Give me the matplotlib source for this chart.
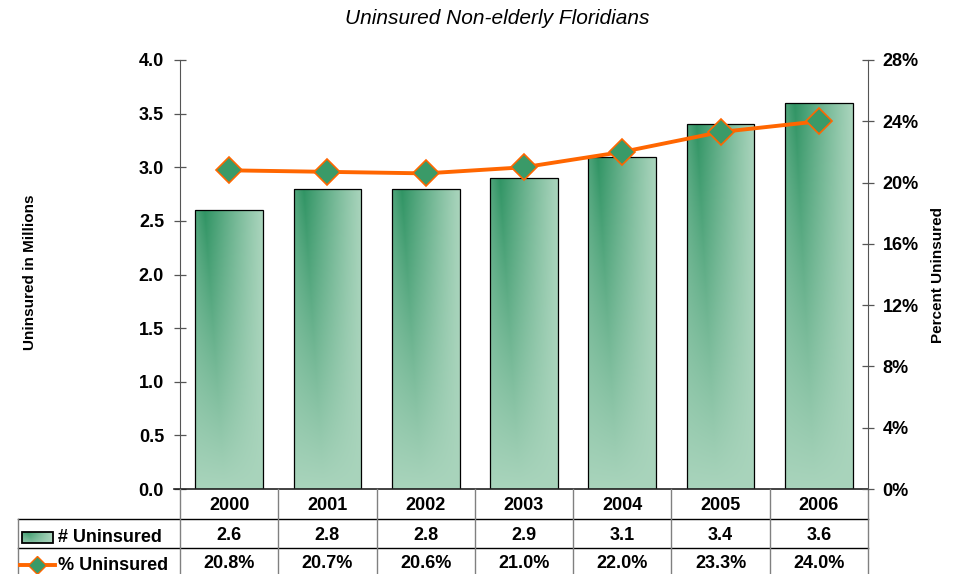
import numpy as np
import matplotlib
matplotlib.use("Agg")
import matplotlib.pyplot as plt
from matplotlib.patches import Rectangle
from matplotlib.lines import Line2D
import matplotlib.transforms as mtransforms

years = ["2000", "2001", "2002", "2003", "2004", "2005", "2006"]
uninsured_millions = [2.6, 2.8, 2.8, 2.9, 3.1, 3.4, 3.6]
pct_uninsured = [20.8, 20.7, 20.6, 21.0, 22.0, 23.3, 24.0]
left_ticks = [0.0, 0.5, 1.0, 1.5, 2.0, 2.5, 3.0, 3.5, 4.0]
right_ticks = [0, 4, 8, 12, 16, 20, 24, 28]

plt.rcParams['font.family'] = ['Liberation Sans', 'DejaVu Sans']

W, H = 954, 574
fig = plt.figure(figsize=(W / 100, H / 100), dpi=100)
L, R, B, T = 180, 868, 489, 60
ax = fig.add_axes([L / W, (H - B) / H, (R - L) / W, (B - T) / H])
ax2 = ax.twinx()

dark = np.array([0x30, 0x94, 0x64]) / 255
light = np.array([0xa9, 0xd4, 0xbc]) / 255

def grad_img(ny=120, nx=80, y0=0.0, y1=1.0):
    xs = np.linspace(0, 1, nx)
    ys = np.linspace(y0, y1, ny)
    X, Y = np.meshgrid(xs, ys)
    ridge = 0.14 + 0.30 * (1 - Y)
    hl = np.where(X < ridge, 1 - 0.25 * (ridge - X) / np.maximum(ridge, 1e-6),
                  1 - (X - ridge) / (1 - ridge))
    hl = np.clip(hl, 0, 1) ** 1.1
    vf = np.clip(Y, 0, 1) ** 1.0
    d = hl * vf
    img = light[None, None, :] + (dark - light)[None, None, :] * d[..., None]
    return np.clip(img, 0, 1)

x = np.arange(len(years))
bw = 0.69
bars = ax.bar(x, uninsured_millions, width=bw, color='none', edgecolor='black', linewidth=0.9, zorder=3)
for b, v in zip(bars, uninsured_millions):
    x0 = b.get_x()
    img = grad_img()
    im = ax.imshow(img, extent=[x0, x0 + bw, 0, v], origin='lower', aspect='auto', zorder=2,
                   interpolation='bilinear')
    im.set_clip_path(b)

ax.set_xlim(-0.5, len(years) - 0.5)
ax.set_ylim(0, 4.0)
ax.set_yticks(left_ticks)
ax.set_yticklabels([f"{t:.1f}" for t in left_ticks], fontsize=13, fontweight='bold')
ax.set_xticks([])
ax2.set_ylim(0, 28)
ax2.set_yticks(right_ticks)
ax2.set_yticklabels([f"{t}%" for t in right_ticks], fontsize=13, fontweight='bold')

for a in (ax, ax2):
    for s in a.spines.values():
        s.set_visible(False)
ax.spines['left'].set_visible(True)
ax.spines['left'].set_color('#555555')
ax2.spines['right'].set_visible(True)
ax2.spines['right'].set_color('#555555')
ax.tick_params(axis='y', direction='inout', length=9, width=0.9, color='#555555', pad=7)
ax2.tick_params(axis='y', direction='inout', length=9, width=0.9, color='#555555', pad=6)

ax2.plot(x, pct_uninsured, color='#ff6600', lw=2.8, marker='D', markersize=13,
         markerfacecolor='#3a9a68', markeredgecolor='#ff6600', markeredgewidth=1.2, zorder=5)
ax.set_zorder(1)
ax2.set_zorder(2)
ax2.patch.set_visible(False)

fig.text(30 / W, 1 - 272 / H, "Uninsured in Millions", rotation=90, ha='center', va='center',
         fontsize=11, fontweight='bold')
fig.text(938 / W, 1 - 275 / H, "Percent Uninsured", rotation=90, ha='center', va='center',
         fontsize=11, fontweight='bold')
fig.text(497 / W, 1 - 18 / H, "Uninsured Non-elderly Floridians", ha='center', va='center',
         fontsize=15, style='italic')

def hline(x0, x1, yp, color='black', lw=1.0):
    fig.add_artist(Line2D([x0 / W, x1 / W], [1 - yp / H, 1 - yp / H], color=color, lw=lw))

def vline(xp, y0, y1, color='#808080', lw=1.0):
    fig.add_artist(Line2D([xp / W, xp / W], [1 - y0 / H, 1 - y1 / H], color=color, lw=lw))

hline(L - 6, R, B, color='#222222', lw=1.2)
hline(18, R, 518.5)
hline(18, R, 548)
vline(18, 518.5, 574)
vline(L, B, 574)
step = (R - L) / len(years)
for i in range(1, len(years) + 1):
    vline(L + step * i, B, 574)

trans_x = mtransforms.blended_transform_factory(ax.transData, fig.transFigure)
for i in range(len(years)):
    ax.text(x[i], 1 - 505 / H, years[i], transform=trans_x, ha='center', va='center',
            fontsize=13, fontweight='bold', clip_on=False)
    ax.text(x[i], 1 - 535 / H, f"{uninsured_millions[i]:.1f}", transform=trans_x, ha='center',
            va='center', fontsize=13, fontweight='bold', clip_on=False)
    ax.text(x[i], 1 - 564 / H, f"{pct_uninsured[i]:.1f}%", transform=trans_x, ha='center',
            va='center', fontsize=13, fontweight='bold', clip_on=False)

kax = fig.add_axes([22 / W, 1 - 543 / H, 31 / W, 11 / H])
kax.imshow(grad_img(ny=20, nx=40, y0=0.3, y1=0.9), extent=[0, 1, 0, 1], origin='lower', aspect='auto')
kax.add_patch(Rectangle((0, 0), 1, 1, fill=False, edgecolor='black', lw=1.3, transform=kax.transAxes, clip_on=False))
kax.set_axis_off()
fig.text(58 / W, 1 - 537 / H, "# Uninsured", ha='left', va='center', fontsize=13, fontweight='bold')

fig.add_artist(Line2D([20 / W, 55 / W], [1 - 565 / H, 1 - 565 / H], color='#ff6600', lw=2.8))
fig.add_artist(Line2D([37.5 / W], [1 - 565 / H], marker='D', markersize=9, color='#3a9a68',
                      markeredgecolor='#ff6600', markeredgewidth=1.0))
fig.text(58 / W, 1 - 565 / H, "% Uninsured", ha='left', va='center', fontsize=13, fontweight='bold')

fig.savefig("out.png", dpi=100)
